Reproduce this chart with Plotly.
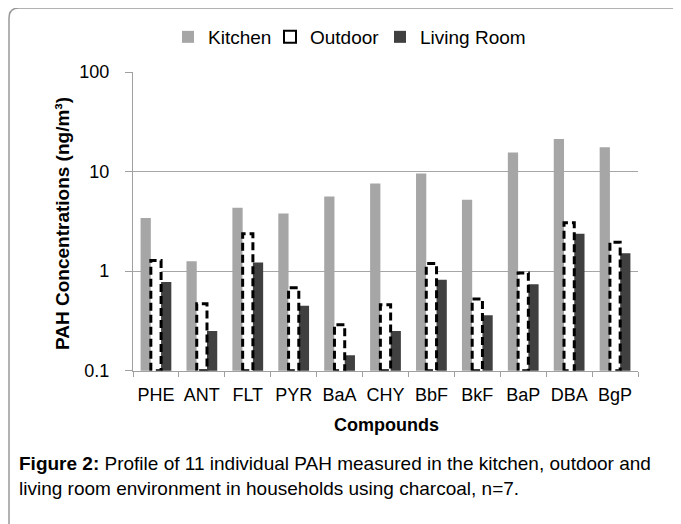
import plotly.graph_objects as go

# The page body adds an 8px margin, so the figure is drawn 8px smaller and every
# position below is given in window pixels and shifted by that offset.
OFF = 8
W, H = 681 - OFF, 524 - OFF

compounds = ["PHE", "ANT", "FLT", "PYR", "BaA", "CHY", "BbF", "BkF", "BaP", "DBA", "BgP"]
kitchen = [3.42, 1.26, 4.34, 3.80, 5.62, 7.59, 9.55, 5.21, 15.5, 21.2, 17.5]
outdoor = [1.28, 0.47, 2.38, 0.68, 0.29, 0.46, 1.19, 0.525, 0.96, 3.07, 1.95]
living_room = [0.78, 0.25, 1.22, 0.45, 0.143, 0.25, 0.82, 0.36, 0.74, 2.38, 1.51]

y_tick_vals = [0.1, 1, 10, 100]
y_tick_text = ["0.1", "1", "10", "100"]

SANS = "Liberation Sans, Arial, sans-serif"


def px(x):
    return (x - OFF) / W


def py(y):
    return 1 - (y - OFF) / H


BARGAP = 0.33
bar_w = (1 - BARGAP) / 3
half = bar_w / 2
y_floor = 0.1

fig = go.Figure()
fig.add_trace(go.Bar(name="Kitchen", x=compounds, y=kitchen, offsetgroup="k",
                     marker=dict(color="#a6a6a6", line=dict(width=0)), legendwidth=57))
fig.add_trace(go.Bar(name="Outdoor", x=[compounds[0]], y=[None], offsetgroup="o",
                     marker=dict(color="white", line=dict(color="black", width=2)),
                     legendwidth=65))
fig.add_trace(go.Bar(name="Outdoor", x=compounds, y=outdoor, offsetgroup="o", showlegend=False,
                     marker=dict(color="white", line=dict(width=0))))
fig.add_trace(go.Bar(name="Living Room", x=compounds, y=living_room, offsetgroup="l",
                     marker=dict(color="#404040", line=dict(width=0))))

# dashed outline of the outdoor bars, on a numeric overlay axis matching the category positions
ox, oy = [], []
for i, v in enumerate(outdoor):
    ox += [i - half, i - half, i + half, i + half, i - half, None]
    oy += [y_floor, v, v, y_floor, y_floor, None]
fig.add_trace(go.Scatter(x=ox, y=oy, xaxis="x2", yaxis="y", mode="lines", showlegend=False,
                         hoverinfo="skip",
                         line=dict(color="black", width=3, dash="8px,4px")))

x0d, x1d = px(133), px(638)
y0d, y1d = py(370.7), py(72)
n = len(compounds)

fig.update_layout(
    width=W, height=H,
    margin=dict(l=0, r=0, t=0, b=0),
    paper_bgcolor="white", plot_bgcolor="white",
    barmode="group", bargap=BARGAP, bargroupgap=0,
    font=dict(family=SANS, size=18, color="black"),
    showlegend=True,
    legend=dict(orientation="h", x=px(168), xanchor="left", y=py(37), yanchor="middle",
                font=dict(family=SANS, size=19), bgcolor="rgba(0,0,0,0)",
                traceorder="normal"),
    xaxis=dict(type="category", domain=[x0d, x1d], categoryorder="array", categoryarray=compounds,
               range=[-0.5, n - 0.5],
               tickson="boundaries", ticks="outside", ticklen=5, tickcolor="#a0a0a0",
               showline=True, linecolor="#a0a0a0", linewidth=1.3, showgrid=False,
               tickangle=0, tickfont=dict(family=SANS, size=18), automargin=False,
               ticklabelstandoff=8),
    xaxis2=dict(overlaying="x", domain=[x0d, x1d], range=[-0.5, n - 0.5], visible=False),
    yaxis=dict(type="log", domain=[y0d, y1d], range=[-1, 2], tickmode="array",
               tickvals=y_tick_vals, ticktext=y_tick_text, ticks="outside", ticklen=7,
               tickcolor="#a0a0a0", showline=True, linecolor="#a0a0a0", linewidth=1.3,
               showgrid=True, gridcolor="#a6a6a6", gridwidth=1.3, zeroline=False,
               tickfont=dict(family=SANS, size=18), automargin=False,
               ticklabelstandoff=12),
)

annotations = [
    dict(text="<b>PAH Concentrations (ng/m³)</b>", x=px(62), y=py(224), textangle=-90,
         font=dict(family=SANS, size=19)),
    dict(text="<b>Compounds</b>", x=px(386), y=py(425), font=dict(family=SANS, size=18)),
    dict(text="<b>Figure 2:</b> Profile of 11 individual PAH measured in the kitchen, outdoor and"
              "<br>living room environment in households using charcoal, n=7.",
         x=px(17), y=py(476), xanchor="left", align="left",
         font=dict(family=SANS, size=19)),
]
for a in annotations:
    a.update(xref="paper", yref="paper", showarrow=False)
    a.setdefault("xanchor", "center")
    a.setdefault("yanchor", "middle")
fig.update_layout(annotations=annotations)

frame = (f"M {px(9)},{py(540)} L {px(9)},{py(18)} Q {px(9)},{py(8)} {px(19)},{py(8)} "
         f"L {px(700)},{py(8)}")
fig.add_shape(type="path", path=frame, xref="paper", yref="paper",
              line=dict(color="#999999", width=1.5))

fig.write_html("out.html")
